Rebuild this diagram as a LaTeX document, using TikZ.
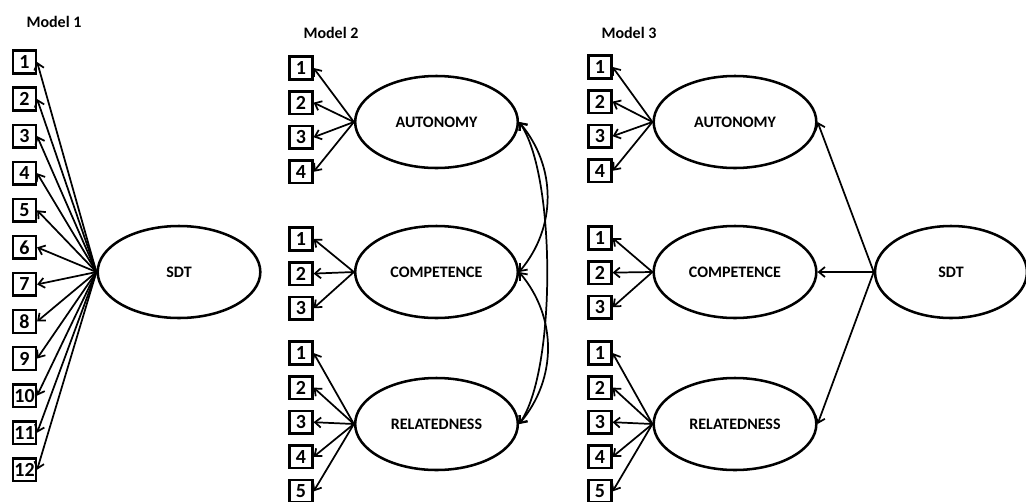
\documentclass[tikz,border=0pt]{standalone}
\usepackage{fontspec}
\setmainfont{Carlito}
\usetikzlibrary{shapes.geometric, arrows.meta, positioning}

\begin{document}
\begin{tikzpicture}[x=0.75pt, y=-0.75pt,
    item/.style={draw, line width=1.9pt, minimum size=17pt, inner sep=0pt,
        font=\fontsize{15}{15}\selectfont\bfseries},
    latent/.style={draw, ellipse, line width=1.9pt, minimum width=122pt, minimum height=69pt,
        font=\fontsize{12}{14}\selectfont\bfseries},
    modlab/.style={font=\fontsize{12}{14}\selectfont\bfseries},
    load/.style={-{Straight Barb[length=4.5pt,width=7.5pt]}, line width=1.3pt},
    cov/.style={{Straight Barb[length=4.5pt,width=7.5pt]}-{Straight Barb[length=4.5pt,width=7.5pt]}, line width=1.3pt},
]
\useasboundingbox (0,0) rectangle (1026,501);

% Model 1
\node[modlab] (m1) at (54,22) {Model 1};
\node[latent] (sdt1) at (179,272) {SDT};
\node[item] (s1) at (24.5,62) {1};
\node[item, below=8.9pt of s1] (s2) {2};
\node[item, below=8.9pt of s2] (s3) {3};
\node[item, below=8.9pt of s3] (s4) {4};
\node[item, below=8.9pt of s4] (s5) {5};
\node[item, below=8.9pt of s5] (s6) {6};
\node[item, below=8.9pt of s6] (s7) {7};
\node[item, below=8.9pt of s7] (s8) {8};
\node[item, below=8.9pt of s8] (s9) {9};
\node[item, below=8.9pt of s9] (s10) {10};
\node[item, below=8.9pt of s10] (s11) {11};
\node[item, below=8.9pt of s11] (s12) {12};
\draw[load] (sdt1.west) -- (s1.east); \draw[load] (sdt1.west) -- (s2.east);
\draw[load] (sdt1.west) -- (s3.east); \draw[load] (sdt1.west) -- (s4.east);
\draw[load] (sdt1.west) -- (s5.east); \draw[load] (sdt1.west) -- (s6.east);
\draw[load] (sdt1.west) -- (s7.east); \draw[load] (sdt1.west) -- (s8.east);
\draw[load] (sdt1.west) -- (s9.east); \draw[load] (sdt1.west) -- (s10.east);
\draw[load] (sdt1.west) -- (s11.east); \draw[load] (sdt1.west) -- (s12.east);

% Model 2
\node[modlab] (m2) at (331,33) {Model 2};
\node[latent] (aut2) at (436.5,122) {AUTONOMY};
\node[latent] (comp2) at (436.5,272) {COMPETENCE};
\node[latent] (rel2) at (436.5,424) {RELATEDNESS};
\node[item] (pa1) at (301,68) {1};
\node[item, below=7.05pt of pa1] (pa2) {2};
\node[item, below=7.05pt of pa2] (pa3) {3};
\node[item, below=7.05pt of pa3] (pa4) {4};
\node[item] (pc1) at (301,239) {1};
\node[item, below=7.05pt of pc1] (pc2) {2};
\node[item, below=7.05pt of pc2] (pc3) {3};
\node[item] (pr1) at (301,353) {1};
\node[item, below=7.05pt of pr1] (pr2) {2};
\node[item, below=7.05pt of pr2] (pr3) {3};
\node[item, below=7.05pt of pr3] (pr4) {4};
\node[item, below=7.05pt of pr4] (pr5) {5};
\draw[load] (aut2.west) -- (pa1.east); \draw[load] (aut2.west) -- (pa2.east);
\draw[load] (aut2.west) -- (pa3.east); \draw[load] (aut2.west) -- (pa4.east);
\draw[load] (comp2.west) -- (pc1.east); \draw[load] (comp2.west) -- (pc2.east);
\draw[load] (comp2.west) -- (pc3.east);
\draw[load] (rel2.west) -- (pr1.east); \draw[load] (rel2.west) -- (pr2.east);
\draw[load] (rel2.west) -- (pr3.east); \draw[load] (rel2.west) -- (pr4.east);
\draw[load] (rel2.west) -- (pr5.east);
\draw[cov] (aut2.east) to[out=-50, in=50, looseness=1] (comp2.east);
\draw[cov] (comp2.east) to[out=-50, in=50, looseness=1] (rel2.east);
\draw[cov] (aut2.east) to[out=-55, in=55, looseness=0.55] (rel2.east);

% Model 3
\node[modlab] (m3) at (629,33) {Model 3};
\node[latent] (aut3) at (735,122) {AUTONOMY};
\node[latent] (comp3) at (735,272) {COMPETENCE};
\node[latent] (rel3) at (735,424) {RELATEDNESS};
\node[latent, minimum width=114pt] (sdt3) at (951,272) {SDT};
\node[item] (qa1) at (600,67) {1};
\node[item, below=7.05pt of qa1] (qa2) {2};
\node[item, below=7.05pt of qa2] (qa3) {3};
\node[item, below=7.05pt of qa3] (qa4) {4};
\node[item] (qc1) at (600,238) {1};
\node[item, below=7.05pt of qc1] (qc2) {2};
\node[item, below=7.05pt of qc2] (qc3) {3};
\node[item] (qr1) at (600,353) {1};
\node[item, below=7.05pt of qr1] (qr2) {2};
\node[item, below=7.05pt of qr2] (qr3) {3};
\node[item, below=7.05pt of qr3] (qr4) {4};
\node[item, below=7.05pt of qr4] (qr5) {5};
\draw[load] (aut3.west) -- (qa1.east); \draw[load] (aut3.west) -- (qa2.east);
\draw[load] (aut3.west) -- (qa3.east); \draw[load] (aut3.west) -- (qa4.east);
\draw[load] (comp3.west) -- (qc1.east); \draw[load] (comp3.west) -- (qc2.east);
\draw[load] (comp3.west) -- (qc3.east);
\draw[load] (rel3.west) -- (qr1.east); \draw[load] (rel3.west) -- (qr2.east);
\draw[load] (rel3.west) -- (qr3.east); \draw[load] (rel3.west) -- (qr4.east);
\draw[load] (rel3.west) -- (qr5.east);
\draw[load] (sdt3.west) -- (aut3.east); \draw[load] (sdt3.west) -- (comp3.east);
\draw[load] (sdt3.west) -- (rel3.east);
\end{tikzpicture}
\end{document}
